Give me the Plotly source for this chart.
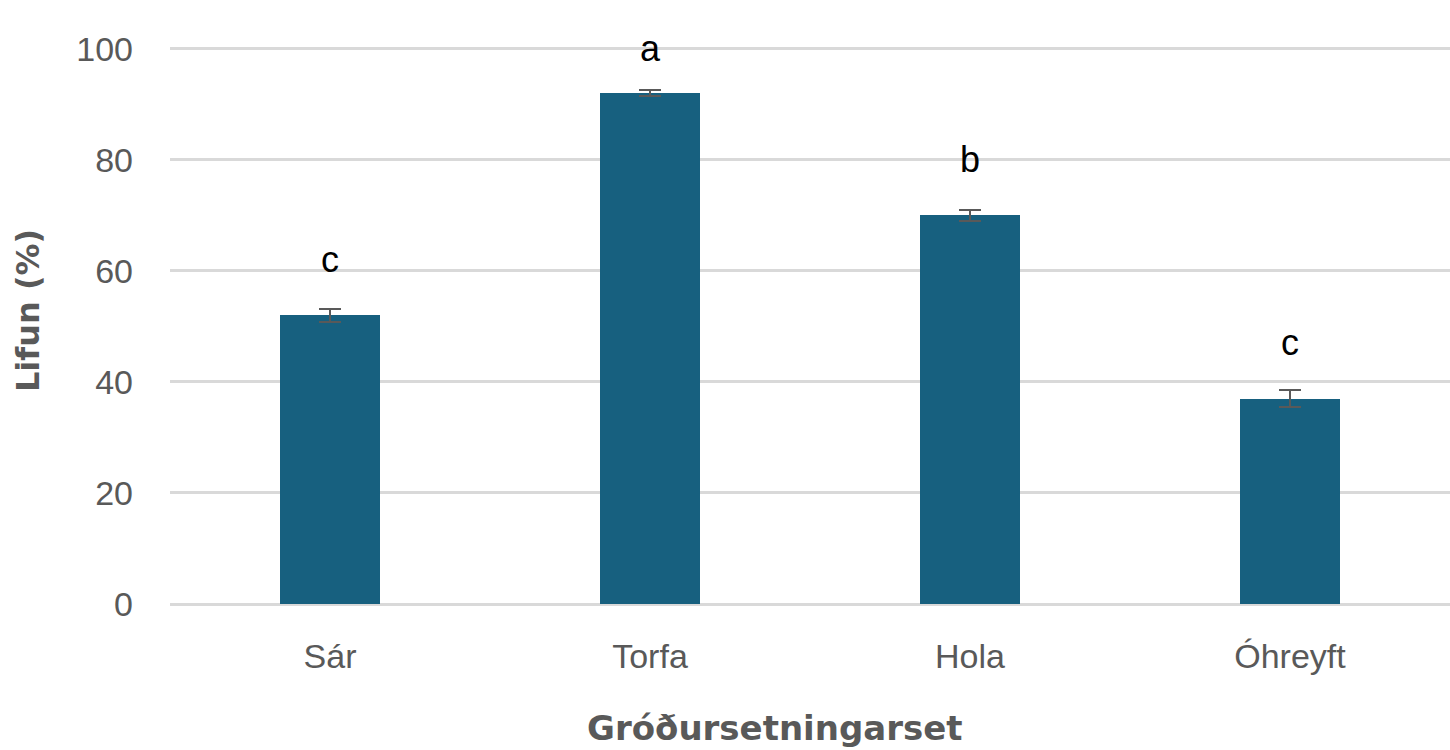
import plotly.graph_objects as go

# Survival by planting site
categories = ["Sár", "Torfa", "Hola", "Óhreyft"]
survival = [52, 92, 70, 37]
std_error = [1.2, 0.6, 0.95, 1.5]
group_letters = ["c", "a", "b", "c"]
letter_y = [62, 100, 80, 47]
y_ticks = [0, 20, 40, 60, 80, 100]

BAR_COLOR = "#17607f"
TEXT_GRAY = "#595959"
FONT = "Liberation Sans, Arial, sans-serif"
TITLE_FONT = "DejaVu Sans, Liberation Sans, sans-serif"

fig = go.Figure()
fig.add_trace(go.Bar(
    x=categories,
    y=survival,
    width=0.3125,
    marker=dict(color=BAR_COLOR, line=dict(width=0)),
    error_y=dict(type="data", array=std_error, visible=True,
                 color=TEXT_GRAY, thickness=2, width=11),
    showlegend=False,
))

# significance group letters above the bars
for cat, ly, letter in zip(categories, letter_y, group_letters):
    fig.add_annotation(x=cat, y=ly, text=letter, showarrow=False,
                       font=dict(family=FONT, size=36, color="#000000"),
                       xanchor="center", yanchor="middle")

# axis titles
fig.add_annotation(xref="paper", yref="paper", x=0.4727, y=-0.2226,
                   text="<b>Gróðursetningarset</b>", showarrow=False,
                   xanchor="center", yanchor="middle",
                   font=dict(size=34, color=TEXT_GRAY, family=TITLE_FONT))
fig.add_annotation(xref="paper", yref="paper", x=-0.1109, y=0.526,
                   text="<b>Lifun (%)</b>", showarrow=False, textangle=-90,
                   xanchor="center", yanchor="middle",
                   font=dict(size=32, color=TEXT_GRAY, family=TITLE_FONT))

fig.update_layout(
    width=1450, height=750,
    margin=dict(l=170, r=0, t=47, b=146),
    plot_bgcolor="white", paper_bgcolor="white",
    font=dict(family=FONT, color=TEXT_GRAY),
    bargap=0,
    xaxis=dict(
        tickfont=dict(size=34, color=TEXT_GRAY),
        showline=False, showgrid=False, ticks="", ticklen=0,
        ticklabelstandoff=29,
    ),
    yaxis=dict(
        range=[0, 100.3], tickvals=y_ticks,
        tickfont=dict(size=34, color=TEXT_GRAY),
        showgrid=True, gridcolor="#d9d9d9", gridwidth=3,
        zeroline=True, zerolinecolor="#d9d9d9", zerolinewidth=3,
        ticks="", ticklabelstandoff=36,
    ),
)

fig.write_html("out.html")
